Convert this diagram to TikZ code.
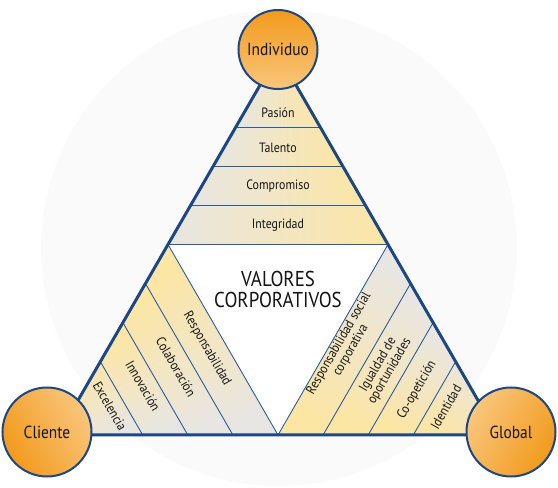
\documentclass[tikz,border=0pt]{standalone}
\usepackage{fontspec}
\setmainfont{PT Sans}[FakeStretch=0.88]
\usetikzlibrary{calc}

\definecolor{edgeblue}{HTML}{1C4784}
\definecolor{lineblue}{HTML}{2C5C9C}
\definecolor{bandgray}{HTML}{E8E6E2}
\definecolor{bandyellow}{HTML}{FCE6A4}
\definecolor{orangedark}{HTML}{F29A1C}
\definecolor{orangelight}{HTML}{F9C67C}
\definecolor{haze}{HTML}{FAFAFA}
\definecolor{ink}{HTML}{151515}

\tikzset{
  toptone/.style={left color=bandgray, right color=bandyellow},
  lefttone/.style={top color=bandyellow, bottom color=bandgray, shading angle=30},
  righttone/.style={top color=bandgray, bottom color=bandyellow, shading angle=-30},
  stripe/.style={lineblue, line width=0.9pt},
  pole/.style={circle, draw=edgeblue, line width=2pt, inner sep=0pt, text=ink, font=\fontsize{17.5}{17.5}\selectfont},
  value/.style={text=ink, font=\fontsize{13.5}{13.5}\selectfont, align=center},
}

\begin{document}
\begin{tikzpicture}[x=1pt, y=1pt]
    \useasboundingbox (0,0) rectangle (558,488);
    \fill[haze] (279,240) circle (238);

    % corners of the big triangle and of the inner one
    \coordinate (A) at (278,434);
    \coordinate (BL) at (58,53);
    \coordinate (BR) at (498,53);
    \coordinate (ML) at ($(A)!0.5!(BL)$);
    \coordinate (MR) at ($(A)!0.5!(BR)$);
    \coordinate (MB) at ($(BL)!0.5!(BR)$);

    \foreach \k in {1,2,3} {
        \coordinate (T\k) at ($(ML)!\k*0.205!(A)$);
        \coordinate (U\k) at ($(MR)!\k*0.205!(A)$);
        \coordinate (P\k) at ($(MB)!\k*0.205!(BL)$);
        \coordinate (Q\k) at ($(ML)!\k*0.205!(BL)$);
        \coordinate (R\k) at ($(MB)!\k*0.205!(BR)$);
        \coordinate (S\k) at ($(MR)!\k*0.205!(BR)$);
    }

    %%% top
    \shade[toptone] (ML) -- (T1) -- (U1) -- (MR) -- cycle;
    \shade[toptone] (T1) -- (T2) -- (U2) -- (U1) -- cycle;
    \shade[toptone] (T2) -- (T3) -- (U3) -- (U2) -- cycle;
    \shade[toptone] (T3) -- (A) -- (U3) -- cycle;

    %%% left
    \shade[lefttone] (MB) -- (ML) -- (Q1) -- (P1) -- cycle;
    \shade[lefttone] (P1) -- (Q1) -- (Q2) -- (P2) -- cycle;
    \shade[lefttone] (P2) -- (Q2) -- (Q3) -- (P3) -- cycle;
    \shade[lefttone] (P3) -- (Q3) -- (BL) -- cycle;

    %%% right
    \shade[righttone] (MB) -- (MR) -- (S1) -- (R1) -- cycle;
    \shade[righttone] (R1) -- (S1) -- (S2) -- (R2) -- cycle;
    \shade[righttone] (R2) -- (S2) -- (S3) -- (R3) -- cycle;
    \shade[righttone] (R3) -- (S3) -- (BR) -- cycle;

    \fill[white] (ML) -- (MR) -- (MB) -- cycle;

    \draw[stripe] (ML) -- (MR) -- (MB) -- cycle;
    \draw[stripe] (T1) -- (U1) (T2) -- (U2) (T3) -- (U3);
    \draw[stripe] (P1) -- (Q1) (P2) -- (Q2) (P3) -- (Q3);
    \draw[stripe] (R1) -- (S1) (R2) -- (S2) (R3) -- (S3);

    \draw[edgeblue, line width=3pt] (A) -- (BL) -- (BR) -- cycle;

    \node[pole, minimum size=79pt, top color=orangedark, bottom color=orangelight] (individuo) at (278,438.5) {Individuo};
    \node[pole, minimum size=89pt, top color=orangedark, bottom color=orangelight, shading angle=120] (cliente) at (47,56) {Cliente};
    \node[pole, minimum size=89pt, top color=orangedark, bottom color=orangelight, shading angle=-120] (global) at (511,56) {Global};

    \node[value] (pasion) at (278,375) {Pasión};
    \node[value] (talento) at (278,340.5) {Talento};
    \node[value] (compromiso) at (278,301.5) {Compromiso};
    \node[value] (integridad) at (278,262.5) {Integridad};

    \node[text=ink, font=\fontsize{21.5}{21}\selectfont, align=center] (valores) at (278,199) {VALORES\\CORPORATIVOS};

    \node[value, rotate=-60] (responsabilidad) at (207,139) {Responsabilidad};
    \node[value, rotate=-60] (colaboracion) at (176,121) {Colaboración};
    \node[value, rotate=-60] (innovacion) at (143,102) {Innovación};
    \node[value, rotate=-60] (excelencia) at (110,82) {Excelencia};

    \node[value, rotate=60] (rsc) at (345,141) {Responsabilidad social\\corporativa};
    \node[value, rotate=60] (igualdad) at (384,120) {Igualdad de\\oportunidades};
    \node[value, rotate=60] (coopeticion) at (417,98) {Co-opetición};
    \node[value, rotate=60] (identidad) at (446,81) {Identidad};
\end{tikzpicture}
\end{document}
